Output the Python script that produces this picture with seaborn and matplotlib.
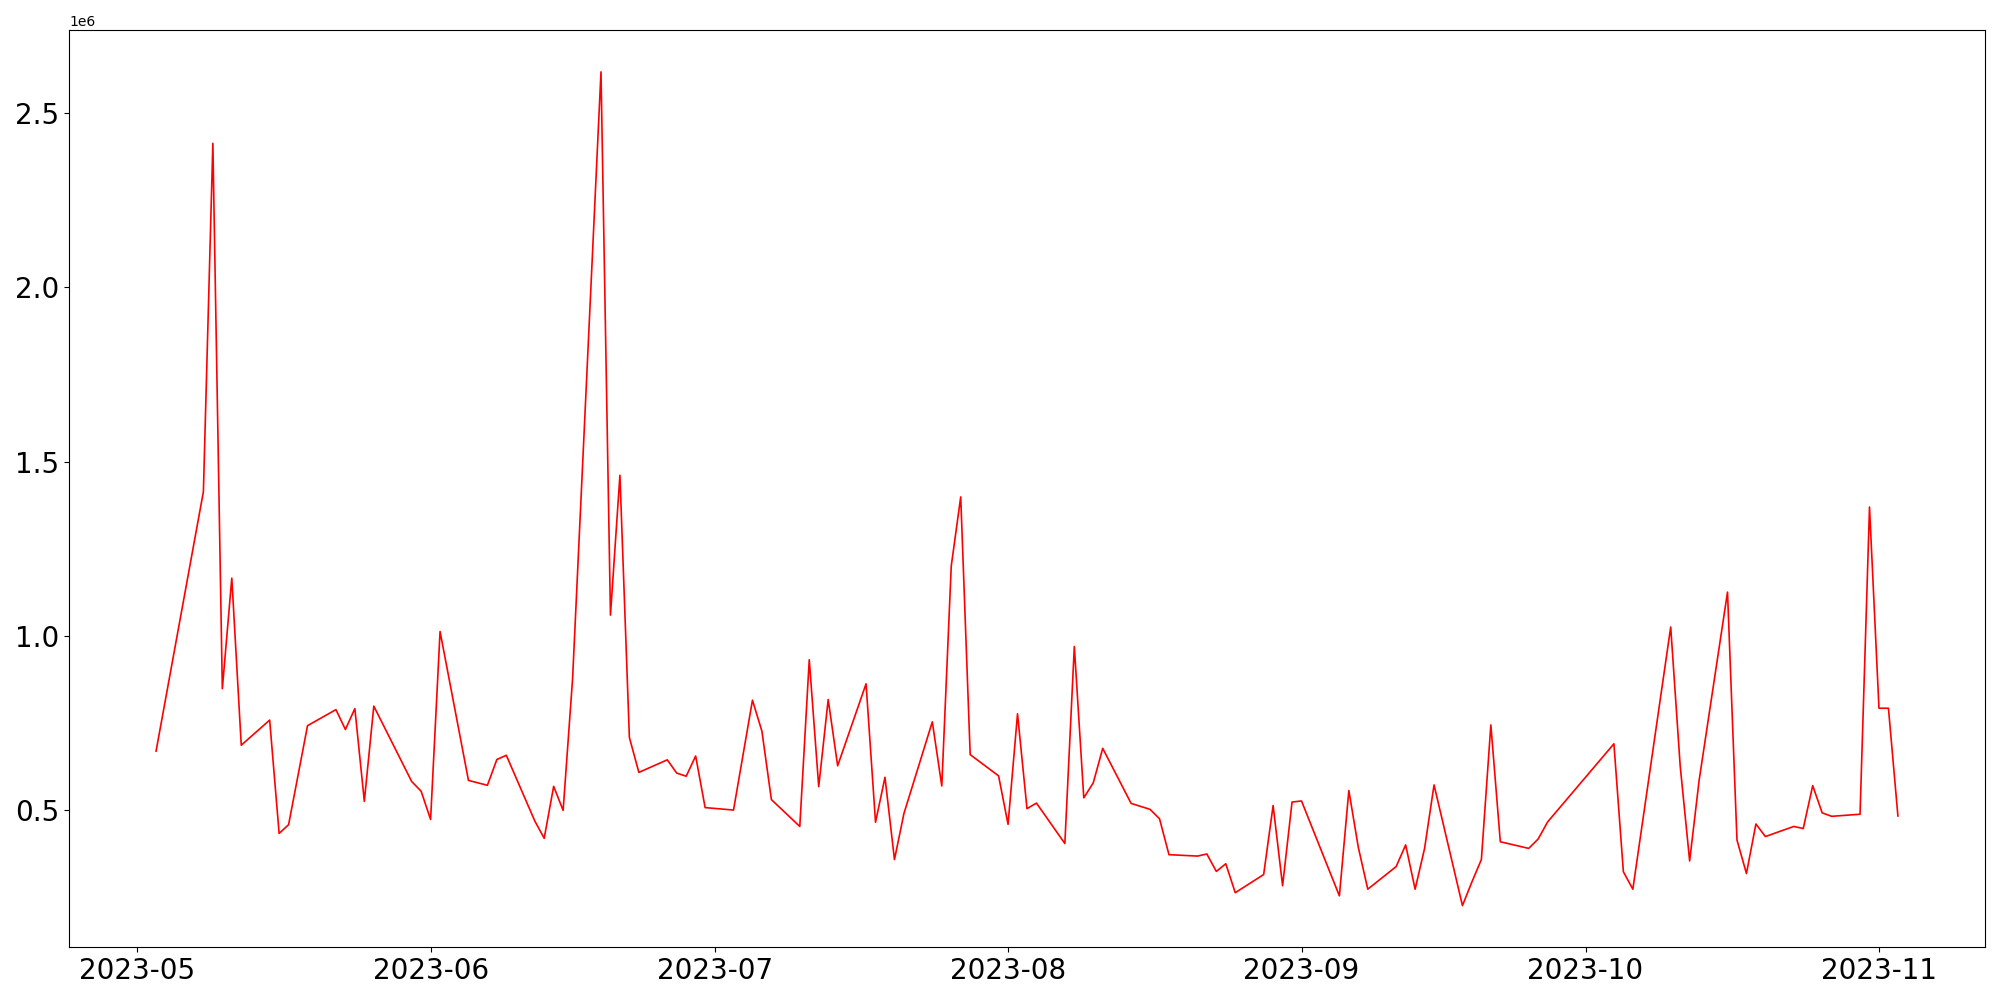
import matplotlib
matplotlib.use("Agg")
import matplotlib.pyplot as plt
import seaborn as sns
import pandas as pd

dates = [
    "2023-05-03", "2023-05-08", "2023-05-09", "2023-05-10", "2023-05-11", "2023-05-12",
    "2023-05-15", "2023-05-16", "2023-05-17", "2023-05-19", "2023-05-22", "2023-05-23",
    "2023-05-24", "2023-05-25", "2023-05-26", "2023-05-30", "2023-05-31",
    "2023-06-01", "2023-06-02", "2023-06-05", "2023-06-07", "2023-06-08", "2023-06-09",
    "2023-06-12", "2023-06-13", "2023-06-14", "2023-06-15", "2023-06-16", "2023-06-19",
    "2023-06-20", "2023-06-21", "2023-06-22", "2023-06-23", "2023-06-26", "2023-06-27",
    "2023-06-28", "2023-06-29", "2023-06-30",
    "2023-07-03", "2023-07-05", "2023-07-06", "2023-07-07", "2023-07-10", "2023-07-11",
    "2023-07-12", "2023-07-13", "2023-07-14", "2023-07-17", "2023-07-18", "2023-07-19",
    "2023-07-20", "2023-07-21", "2023-07-24", "2023-07-25", "2023-07-26", "2023-07-27",
    "2023-07-28", "2023-07-31",
    "2023-08-01", "2023-08-02", "2023-08-03", "2023-08-04", "2023-08-07", "2023-08-08",
    "2023-08-09", "2023-08-10", "2023-08-11", "2023-08-14", "2023-08-16", "2023-08-17",
    "2023-08-18", "2023-08-21", "2023-08-22", "2023-08-23", "2023-08-24", "2023-08-25",
    "2023-08-28", "2023-08-29", "2023-08-30", "2023-08-31",
    "2023-09-01", "2023-09-05", "2023-09-06", "2023-09-07", "2023-09-08", "2023-09-11",
    "2023-09-12", "2023-09-13", "2023-09-14", "2023-09-15", "2023-09-18", "2023-09-19",
    "2023-09-20", "2023-09-21", "2023-09-22", "2023-09-25", "2023-09-26", "2023-09-27",
    "2023-10-04", "2023-10-05", "2023-10-06", "2023-10-10", "2023-10-11", "2023-10-12",
    "2023-10-13", "2023-10-16", "2023-10-17", "2023-10-18", "2023-10-19", "2023-10-20",
    "2023-10-23", "2023-10-24", "2023-10-25", "2023-10-26", "2023-10-27", "2023-10-30",
    "2023-10-31",
    "2023-11-01", "2023-11-02", "2023-11-03",
]

values = [
    670000, 1414000, 2413000, 849000, 1166000, 687000,
    759000, 434000, 459000, 743000, 789000, 732000,
    792000, 526000, 799000, 583000, 555000,
    474000, 1013000, 586000, 572000, 646000, 658000,
    470000, 420000, 569000, 500000, 878000, 2618000,
    1060000, 1461000, 709000, 609000, 645000, 607000,
    598000, 656000, 508000,
    501000, 816000, 727000, 531000, 454000, 932000,
    568000, 818000, 628000, 863000, 466000, 595000,
    359000, 491000, 754000, 570000, 1201000, 1399000,
    660000, 599000,
    460000, 777000, 505000, 521000, 405000, 970000,
    536000, 579000, 678000, 520000, 503000, 476000,
    373000, 369000, 375000, 325000, 347000, 264000,
    316000, 514000, 284000, 524000,
    527000, 255000, 557000, 394000, 274000, 339000,
    401000, 274000, 391000, 573000, 227000, 295000,
    359000, 745000, 410000, 391000, 418000, 467000,
    691000, 324000, 274000, 1026000, 628000, 355000,
    586000, 1126000, 415000, 319000, 461000, 425000,
    454000, 448000, 571000, 493000, 483000, 489000,
    1370000,
    793000, 793000, 484000,
]

df = pd.DataFrame({"date": pd.to_datetime(dates), "value": values})

fig, ax = plt.subplots(figsize=(20, 10), dpi=100)
sns.lineplot(data=df, x="date", y="value", color="red", linewidth=1.2, ax=ax)
ax.set_xlabel("")
ax.set_ylabel("")
ax.tick_params(axis="both", labelsize=20)
fig.tight_layout()
fig.savefig("out.png", dpi=100)
